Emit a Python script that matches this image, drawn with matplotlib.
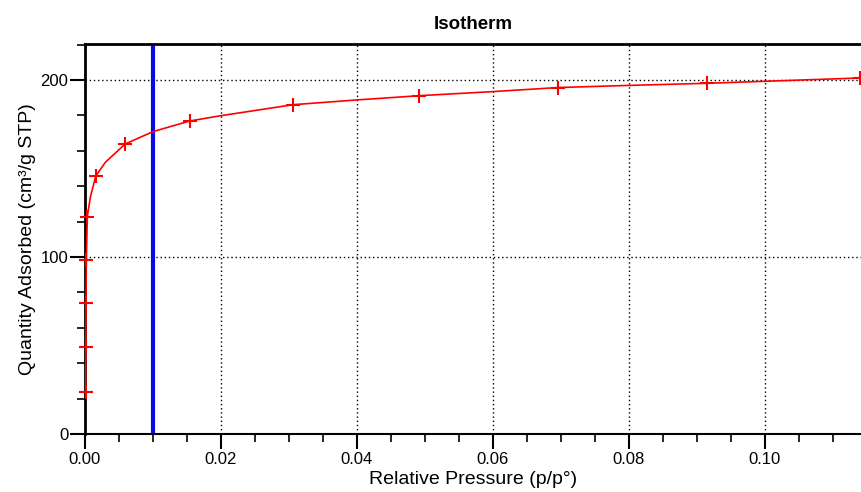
import numpy as np
import matplotlib
matplotlib.use('Agg')
import matplotlib.pyplot as plt
from matplotlib.ticker import MultipleLocator

matplotlib.rcParams.update({'font.family': ['Liberation Sans', 'DejaVu Sans']})

# measured points (markers)
p_pts = [0.0001, 0.00012, 0.00015, 0.0002, 0.00034, 0.0016, 0.0059, 0.0154,
         0.0306, 0.0492, 0.0696, 0.0915, 0.1140]
q_pts = [23.7, 49.4, 74.1, 98.3, 122.8, 145.8, 163.8, 176.8,
         186.0, 191.1, 195.7, 198.1, 201.1]

# extra points
p_curve = [0.00008, 0.0008, 0.003, 0.010, 0.020, 0.040, 0.060, 0.080]
q_curve = [21.0, 134.0, 153.5, 170.8, 179.8, 188.7, 193.4, 196.9]

p_line = np.array(p_pts + p_curve)
q_line = np.array(q_pts + q_curve)
order = np.argsort(p_line)
p_line = p_line[order]
q_line = q_line[order]

marker_x = 0.010

fig = plt.figure(figsize=(8.62, 4.92), dpi=100)
ax = fig.add_axes([0.0986, 0.1179, 0.9014, 0.7927])

ax.plot(p_line, q_line, color='red', lw=1.2, zorder=3, clip_on=True)
ax.plot(p_pts, q_pts, ls='none', marker='+', ms=10, mew=1.5, color='red', zorder=4, clip_on=False)
ax.axvline(marker_x, color='#0a0ae6', lw=3, zorder=2)

ax.set_xlim(0, 0.1143)
ax.set_ylim(0, 220.3)
ax.xaxis.set_major_locator(MultipleLocator(0.02))
ax.xaxis.set_minor_locator(MultipleLocator(0.005))
ax.yaxis.set_major_locator(MultipleLocator(100))
ax.yaxis.set_minor_locator(MultipleLocator(20))
ax.xaxis.set_major_formatter(matplotlib.ticker.FormatStrFormatter('%.2f'))

ax.grid(True, which='major', ls=(0, (1, 2)), color='black', lw=1.0)
ax.tick_params(which='major', direction='out', length=11, width=1.5, labelsize=12, colors='black')
ax.tick_params(axis='x', which='major', pad=2)
ax.tick_params(axis='y', which='major', pad=1)
ax.tick_params(which='minor', direction='out', length=6, width=1.2)

ax.spines['right'].set_visible(False)
ax.spines['top'].set_linewidth(2)
ax.spines['left'].set_linewidth(2)
ax.spines['bottom'].set_linewidth(1.5)

ax.set_xlabel('Relative Pressure (p/p°)', fontsize=14, labelpad=3)
ax.set_ylabel('Quantity Adsorbed (cm³/g STP)', fontsize=14, labelpad=3)
ax.set_title('Isotherm', fontsize=13.5, fontweight='bold', pad=11)

plt.savefig('out.png', dpi=100)
